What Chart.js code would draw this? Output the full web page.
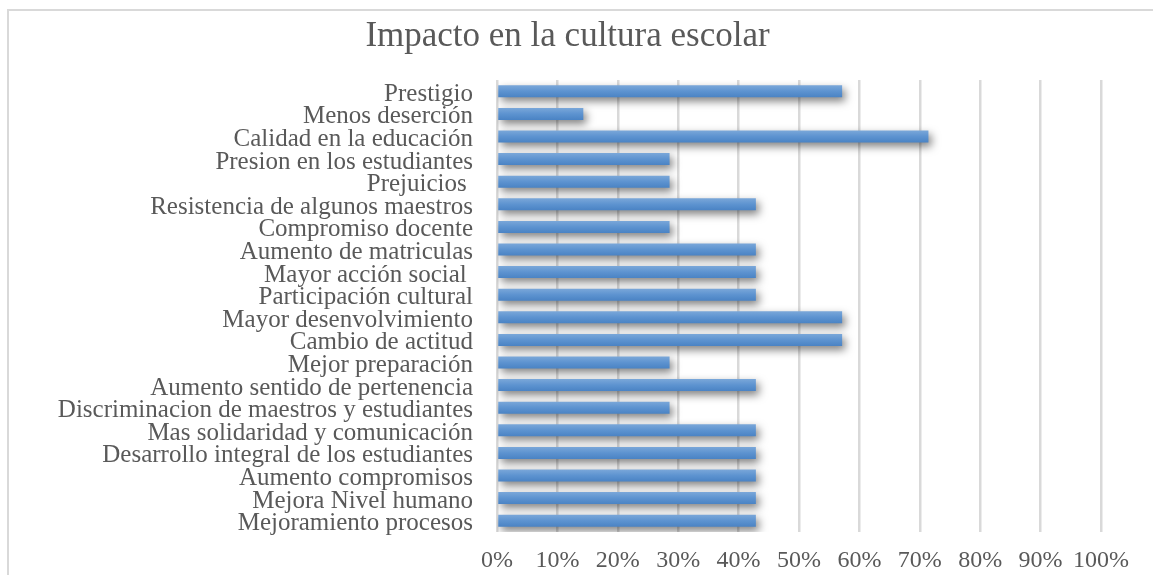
<!DOCTYPE html>
<html>
<head>
<meta charset="utf-8">
<script src="https://cdn.jsdelivr.net/npm/chart.js@4"></script>
<style>
html,body{margin:0;padding:0;background:#fff;}
#wrap{position:absolute;left:0;top:0;width:1153px;height:575px;}
</style>
</head>
<body>
<div id="wrap"><canvas id="c" width="1153" height="575"></canvas></div>
<script>
const chartTitle = "Impacto en la cultura escolar";
const categories = [
  "Prestigio",
  "Menos deserción",
  "Calidad en la educación",
  "Presion en los estudiantes",
  "Prejuicios ",
  "Resistencia de algunos maestros",
  "Compromiso docente",
  "Aumento de matriculas",
  "Mayor acción social ",
  "Participación cultural",
  "Mayor desenvolvimiento",
  "Cambio de actitud",
  "Mejor preparación",
  "Aumento sentido de pertenencia",
  "Discriminacion de maestros y estudiantes",
  "Mas solidaridad y comunicación",
  "Desarrollo integral de los estudiantes",
  "Aumento compromisos",
  "Mejora Nivel humano",
  "Mejoramiento procesos"
];
const values = [
  57.14, 14.29, 71.43, 28.57, 28.57, 42.86, 28.57, 42.86, 42.86, 42.86,
  57.14, 57.14, 28.57, 42.86, 28.57, 42.86, 42.86, 42.86, 42.86, 42.86
];
const xMin = 0, xMax = 100, xStep = 10;

const FONT = "'Liberation Serif', 'Times New Roman', serif";
const TXT = "#595959";

const frame = {
  id: 'frame',
  beforeDraw(chart) {
    const ctx = chart.ctx;
    ctx.save();
    ctx.fillStyle = '#ffffff';
    ctx.fillRect(0, 0, chart.width, chart.height);
    ctx.strokeStyle = '#d9d9d9';
    ctx.lineWidth = 2;
    ctx.beginPath();
    ctx.moveTo(8, chart.height + 5);
    ctx.lineTo(8, 10);
    ctx.lineTo(chart.width + 5, 10);
    ctx.stroke();
    ctx.restore();
  }
};
const shadow = {
  id: 'shadow',
  beforeDatasetsDraw(chart) {
    const ctx = chart.ctx;
    ctx.save();
    ctx.shadowColor = 'rgba(0,0,0,0.5)';
    ctx.shadowBlur = 8;
    ctx.shadowOffsetX = 3;
    ctx.shadowOffsetY = 4;
  },
  afterDatasetsDraw(chart) {
    chart.ctx.restore();
  }
};

function barFill(c) {
  const chart = c.chart;
  const ys = chart.scales && chart.scales.y;
  if (!ys || c.dataIndex === undefined || !chart.chartArea) return '#5b91cf';
  const py = ys.getPixelForValue(c.dataIndex);
  const g = chart.ctx.createLinearGradient(0, py - 6, 0, py + 6);
  g.addColorStop(0, '#7aa7d9');
  g.addColorStop(0.5, '#5d93d0');
  g.addColorStop(1, '#4a83c4');
  return g;
}

new Chart(document.getElementById('c'), {
  type: 'bar',
  data: {
    labels: categories,
    datasets: [{
      data: values,
      backgroundColor: barFill,
      borderWidth: 0,
      barPercentage: 0.53,
      categoryPercentage: 1
    }]
  },
  options: {
    indexAxis: 'y',
    responsive: false,
    animation: false,
    layout: { padding: { left: 34, right: 52, top: 0, bottom: 0 } },
    plugins: {
      legend: { display: false },
      tooltip: { enabled: false },
      title: {
        display: true,
        text: chartTitle,
        color: TXT,
        font: { family: FONT, size: 35, weight: 'normal' },
        padding: { top: 16, bottom: 22 }
      }
    },
    scales: {
      x: {
        min: xMin, max: xMax,
        ticks: {
          stepSize: xStep,
          callback: v => v + '%',
          color: TXT,
          font: { family: FONT, size: 24 },
          padding: 14,
          maxRotation: 0
        },
        grid: { color: '#d9d9d9', lineWidth: 2.5, drawTicks: false },
        border: { display: false },
        afterFit: s => { s.height = 43; }
      },
      y: {
        ticks: {
          color: TXT,
          font: { family: FONT, size: 25 },
          padding: 24,
          labelOffset: 3,
          autoSkip: false
        },
        grid: { display: false, drawTicks: false },
        border: { display: false },
        afterFit: s => { s.width = 463; }
      }
    }
  },
  plugins: [frame, shadow]
});
</script>
</body>
</html>
